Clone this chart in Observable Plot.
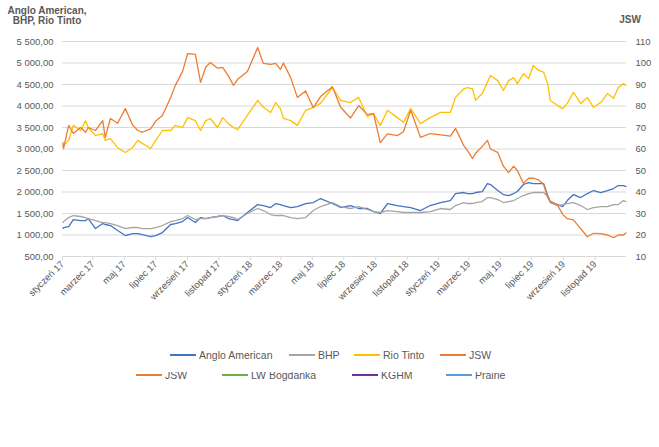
<!DOCTYPE html>
<html>
<head>
<meta charset="utf-8">
<script src="https://cdn.jsdelivr.net/npm/d3@7"></script>
<script src="https://cdn.jsdelivr.net/npm/@observablehq/plot@0.6"></script>
<style>
  html, body { margin:0; padding:0; background:#fff; }
  body { width:659px; height:447px; position:relative; overflow:hidden; font-family:"Liberation Sans", Arial, sans-serif; color:#595959; }
  .title { position:absolute; font-weight:bold; font-size:10px; line-height:10.5px; text-align:center; }
  .leg { position:absolute; height:12px; display:flex; align-items:center; font-size:10.5px; white-space:nowrap; }
  .leg span { display:inline-block; width:26px; height:2px; margin-right:3px; }
  #row2 { position:absolute; left:0; top:372px; width:659px; height:14px; overflow:hidden; }
  #chart { position:absolute; left:0; top:0; }
</style>
</head>
<body>
<div id="chart"></div>
<div class="title" style="left:0;top:5.5px;width:94px;">Anglo American,<br>BHP, Rio Tinto</div>
<div class="title" style="left:612px;top:14.5px;width:36px;">JSW</div>
<div id="row2"></div>
<script>
// ---- data ----
const dates = ["2017-01-02","2017-01-03","2017-01-13","2017-01-22","2017-02-05","2017-02-15","2017-02-20","2017-03-06","2017-03-20","2017-03-25",
"2017-04-04","2017-04-18","2017-05-03","2017-05-17","2017-05-27","2017-06-05","2017-06-21","2017-07-01","2017-07-14","2017-07-30",
"2017-08-08","2017-08-22","2017-09-01","2017-09-16","2017-09-26","2017-10-06","2017-10-15","2017-10-29","2017-11-08","2017-11-19",
"2017-11-29","2017-12-07","2017-12-26","2018-01-15","2018-01-26","2018-02-09","2018-02-19","2018-02-28","2018-03-06","2018-03-20",
"2018-04-02","2018-04-18","2018-05-03","2018-05-17","2018-06-09","2018-06-25","2018-07-14","2018-07-30","2018-08-16","2018-08-28",
"2018-09-10","2018-09-24","2018-10-13","2018-10-25","2018-11-08","2018-11-27","2018-12-16","2019-01-05","2019-01-24","2019-02-03",
"2019-02-19","2019-02-26","2019-03-08","2019-03-14","2019-03-27","2019-04-06","2019-04-12","2019-04-26","2019-05-07","2019-05-17",
"2019-05-27","2019-06-03","2019-06-15","2019-06-25","2019-07-04","2019-07-14","2019-07-24","2019-08-01","2019-08-06","2019-08-20",
"2019-08-30","2019-09-08","2019-09-20","2019-10-04","2019-10-17","2019-10-29","2019-11-12","2019-11-25","2019-12-07","2019-12-16",
"2019-12-26","2019-12-31"];

const angloAmerican = [1150,1174,1197,1360,1336,1336,1383,1150,1267,1244,
1220,1104,987,1034,1034,1010,964,987,1057,1244,
1267,1313,1406,1290,1406,1383,1406,1430,1453,1383,
1360,1336,1523,1708,1685,1639,1732,1708,1685,1639,
1662,1732,1755,1848,1732,1639,1685,1616,1616,1546,
1500,1732,1685,1662,1639,1569,1685,1755,1801,1964,
1988,1964,1964,1988,2011,2197,2174,2034,1941,1918,
1964,2011,2174,2220,2197,2197,2197,1918,1778,1708,
1662,1801,1941,1871,1964,2034,1988,2034,2081,2150,
2150,2127];

const bhp = [1290,1313,1406,1453,1430,1406,1383,1336,1290,1290,
1267,1220,1150,1174,1174,1150,1150,1174,1220,1313,
1336,1383,1453,1360,1383,1383,1406,1430,1453,1430,
1406,1360,1500,1616,1569,1476,1453,1453,1453,1406,
1383,1406,1569,1662,1755,1662,1616,1662,1593,1546,
1523,1569,1546,1523,1523,1523,1546,1616,1593,1685,
1755,1732,1732,1755,1778,1871,1871,1825,1755,1778,
1801,1848,1918,1964,1988,1988,1988,1895,1755,1685,
1708,1732,1755,1685,1593,1639,1662,1662,1708,1708,
1801,1778];

const rioTinto = [3060,3080,3200,3550,3430,3660,3500,3310,3360,3200,
3240,3030,2920,3030,3200,3130,3010,3200,3430,3430,
3550,3500,3730,3660,3430,3660,3710,3500,3730,3590,
3500,3450,3780,4130,3970,3850,4080,3940,3710,3660,
3550,3900,3970,4060,4430,4130,4080,4200,3750,3820,
3550,3900,3730,3620,3940,3590,3730,3850,3850,4200,
4400,4430,4400,4130,4290,4550,4710,4590,4360,4590,
4660,4520,4750,4640,4940,4830,4790,4520,4130,4010,
3940,4060,4320,4060,4200,3970,4080,4290,4180,4430,
4520,4480];

const jsw = [63,60.2,71,67.2,70,67.8,70,68.6,73.2,65.4,
74.2,72,78.8,71.2,68.6,67.8,69.4,73,75.6,84,
89.6,96,104.4,104,91,98,100.2,97.6,98,94,
89.6,92.4,96,107.2,99.8,99.4,99.8,97,100,93.2,
84,87,79.2,84.4,89,79.4,74.4,80.2,76,76.4,
63,67,66.2,68,78,65.4,67.2,66.6,66,69.6,
61.6,59.4,55.6,58,61.2,64,60,58.4,52,49,
52,50,44,46.4,46.4,45.6,43.6,37.4,35.6,34,
29.6,27.6,27,23,19.2,20.8,20.6,20,18.8,20,
20,21];

const leftTicks = [500,1000,1500,2000,2500,3000,3500,4000,4500,5000,5500];
const rightTicks = [10,20,30,40,50,60,70,80,90,100,110];
const monthNames = ["styczeń","luty","marzec","kwiecień","maj","czerwiec","lipiec","sierpień","wrzesień","październik","listopad","grudzień"];
const legendRow1 = ["Anglo American","BHP","Rio Tinto","JSW"];
const legendRow2 = ["JSW","LW Bogdanka","KGHM","Prairie"];

// ---- styles ----
const colors = {"Anglo American":"#4472C4","BHP":"#A5A5A5","Rio Tinto":"#FFC000","JSW":"#ED7D31","LW Bogdanka":"#70AD47","KGHM":"#7030A0","Prairie":"#5B9BD5"};
const ratio = 5500 / 110; // secondary axis scaling (right 10..110 ↔ left 500..5500)

const parse = d3.utcParse("%Y-%m-%d");
const mk = (vals) => dates.map((d, i) => ({date: parse(d), value: vals[i]}));
const fmt = d3.formatLocale({decimal:",", thousands:"\u00a0", grouping:[3], currency:["",""]}).format(",.2f");
const xTicks = d3.utcMonth.every(2).range(new Date(Date.UTC(2017,0,1)), new Date(Date.UTC(2020,0,1)));

const chart = Plot.plot({
  width: 659, height: 340,
  marginTop: 41, marginBottom: 84, marginLeft: 62, marginRight: 33,
  style: {fontFamily: "'Liberation Sans', Arial, sans-serif", fontSize: "9.5px", color: "#595959", background: "transparent"},
  x: {type: "utc", domain: [new Date(Date.UTC(2017,0,1)), new Date(Date.UTC(2020,0,1))]},
  y: {domain: [500, 5500]},
  marks: [
    Plot.gridY({ticks: leftTicks, stroke: "#d9d9d9", strokeOpacity: 1}),
    Plot.axisY({ticks: leftTicks, tickFormat: fmt, tickSize: 0, tickPadding: 9, label: null}),
    Plot.axisY({anchor: "right", ticks: rightTicks.map(v => v * ratio), tickFormat: v => String(Math.round(v / ratio)), tickSize: 0, tickPadding: 9, label: null}),
    Plot.axisX({ticks: xTicks, tickFormat: d => monthNames[d.getUTCMonth()] + " " + String(d.getUTCFullYear()).slice(2), tickRotate: -45, tickSize: 4, tickPadding: 2, stroke: "#d9d9d9", fill: "#595959", label: null}),
    Plot.lineY(mk(angloAmerican), {x: "date", y: "value", stroke: colors["Anglo American"], strokeWidth: 1.3}),
    Plot.lineY(mk(bhp), {x: "date", y: "value", stroke: colors["BHP"], strokeWidth: 1.3}),
    Plot.lineY(mk(rioTinto), {x: "date", y: "value", stroke: colors["Rio Tinto"], strokeWidth: 1.3}),
    Plot.lineY(mk(jsw), {x: "date", y: d => d.value * ratio, stroke: colors["JSW"], strokeWidth: 1.3})
  ]
});
document.getElementById("chart").appendChild(chart);

// ---- legend ----
function addLegend(container, names, lefts, top) {
  names.forEach((n, i) => {
    const el = document.createElement("div");
    el.className = "leg";
    el.style.left = lefts[i] + "px";
    el.style.top = top + "px";
    const sw = document.createElement("span");
    sw.style.background = colors[n];
    el.appendChild(sw);
    el.appendChild(document.createTextNode(n));
    container.appendChild(el);
  });
}
addLegend(document.body, legendRow1, [170, 289, 354, 440], 349);
addLegend(document.getElementById("row2"), legendRow2, [136, 222, 352, 446], -3);
</script>
</body>
</html>
